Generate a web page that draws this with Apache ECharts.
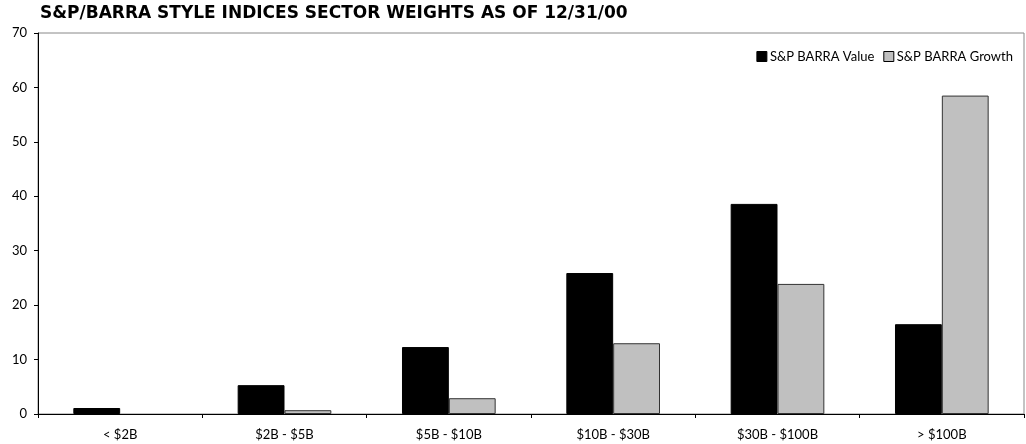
<!DOCTYPE html>
<html><head><meta charset="utf-8">
<script src="https://cdn.jsdelivr.net/npm/echarts@6/dist/echarts.min.js"></script>
<style>html,body{margin:0;padding:0;background:#fff}#c{width:1026px;height:444px}</style>
</head><body><div id="c"></div>
<script>
const categories = ['< $2B', '$2B - $5B', '$5B - $10B', '$10B - $30B', '$30B - $100B', '> $100B'];
const valueSeries = [1.1, 5.3, 12.3, 25.9, 38.6, 16.5];
const growthSeries = [null, 0.7, 2.9, 13.0, 23.9, 58.5];
const yTicks = [0, 10, 20, 30, 40, 50, 60, 70];
const FONT = 'Lato, "Open Sans", sans-serif';
const chart = echarts.init(document.getElementById('c'), null, {renderer: 'canvas'});
chart.setOption({
  animation: false,
  backgroundColor: '#fff',
  title: {
    text: 'S&P/BARRA STYLE INDICES SECTOR WEIGHTS AS OF 12/31/00',
    left: 35, top: 0,
    textStyle: {fontFamily: '"DejaVu Sans", sans-serif', fontSize: 17, fontWeight: 'bold', color: '#000'}
  },
  legend: {
    right: 8, top: 45,
    itemWidth: 10, itemHeight: 10, itemGap: 9,
    textStyle: {fontFamily: FONT, fontSize: 13, color: '#000', padding: [0, 0, 0, -2]},
    data: [
      {name: 'S&P BARRA Value', icon: 'rect', itemStyle: {color: '#000', borderColor: '#000', borderWidth: 1}},
      {name: 'S&P BARRA Growth', icon: 'rect', itemStyle: {color: '#c0c0c0', borderColor: '#000', borderWidth: 1}}
    ]
  },
  grid: {left: 38, right: 2, top: 33, bottom: 30, show: true, borderColor: '#888', borderWidth: 1, containLabel: false},
  xAxis: {
    type: 'category', data: categories,
    axisLine: {lineStyle: {color: '#000', width: 1}},
    axisTick: {show: true, length: 4, lineStyle: {color: '#000'}},
    axisLabel: {fontFamily: FONT, fontSize: 13, color: '#000', margin: 14},
    splitLine: {show: false}
  },
  yAxis: {
    type: 'value', min: 0, max: 70, interval: 10,
    axisLine: {show: true, lineStyle: {color: '#000', width: 1}},
    axisTick: {show: true, length: 4, lineStyle: {color: '#000'}},
    axisLabel: {fontFamily: FONT, fontSize: 13, color: '#000', margin: 11,
      formatter: v => yTicks.includes(v) ? String(v) : ''},
    splitLine: {show: false}
  },
  series: [
    {name: 'S&P BARRA Value', type: 'bar', data: valueSeries, barGap: '0%', barCategoryGap: '43%',
     itemStyle: {color: '#000', borderColor: '#000', borderWidth: 1}},
    {name: 'S&P BARRA Growth', type: 'bar', data: growthSeries, barGap: '0%', barCategoryGap: '43%',
     itemStyle: {color: '#c0c0c0', borderColor: '#333', borderWidth: 1}}
  ]
});
</script></body></html>
